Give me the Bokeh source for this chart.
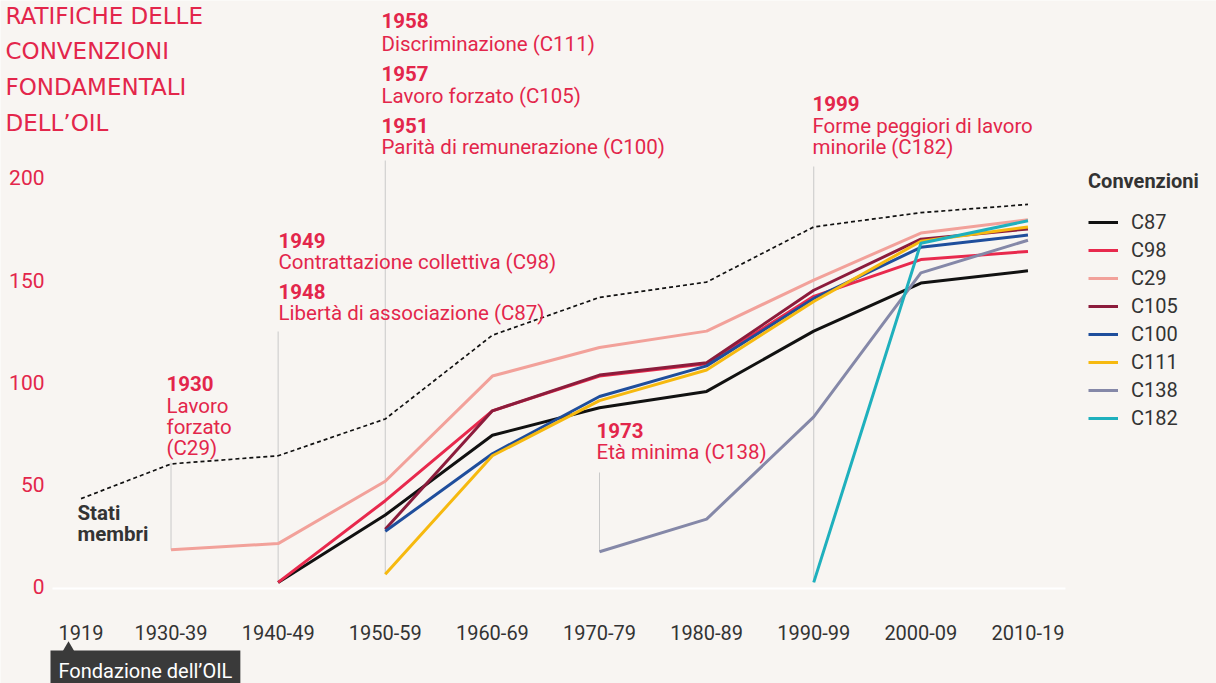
from bokeh.plotting import figure
from bokeh.models import Range1d, Label, Legend, LegendItem
from bokeh.core.properties import value
from bokeh.embed import file_html
from bokeh.resources import INLINE

BG = "#f8f5f2"
RED = "#e3264b"
DARK = "#333333"

# ---------------- data ----------------
periods = ["1919", "1930-39", "1940-49", "1950-59", "1960-69",
           "1970-79", "1980-89", "1990-99", "2000-09", "2010-19"]
stati_membri = [43, 60, 64, 82, 123, 141.5, 149, 176, 183, 187]
C87 = [None, None, 2, 35, 74, 87.5, 95.5, 125, 148.5, 154.5]
C98 = [None, None, 2, 42, 86, 103, 109, 142, 160, 164]
C29 = [None, 18, 21, 51.5, 103, 117, 125, 150, 173, 179.5]
C105 = [None, None, None, 28, 86, 103.5, 109.5, 145, 170, 175]
C100 = [None, None, None, 27, 65, 93, 108, 141, 166, 172]
C111 = [None, None, None, 6, 64, 91, 106, 139.5, 169, 176]
C138 = [None, None, None, None, None, 17, 33, 83, 153.5, 169.5]
C182 = [None, None, None, None, None, None, None, 2, 168, 179]
y_ticks = [0, 50, 100, 150, 200]

series = [
    ("C87", C87, "#111111"),
    ("C98", C98, "#e8294d"),
    ("C29", C29, "#f2a19a"),
    ("C105", C105, "#8c1c3c"),
    ("C100", C100, "#1f4e9c"),
    ("C111", C111, "#f6b90f"),
    ("C138", C138, "#8588a8"),
    ("C182", C182, "#1fb0bd"),
]


def xpos(i):
    # 1919 sits a little closer to the first decade
    return 0.16 if i == 0 else float(i)


# ---------------- geometry (page pixels -> data) ----------------
W, H = 1216, 683
PX = 107.12   # px per period
PY = 2.043    # px per unit
X0_PAGE = 599 - 5 * PX
Y0_PAGE = 586


def dx(px):
    return (px - X0_PAGE) / PX


def dy(py):
    return (Y0_PAGE - py) / PY


p = figure(width=W, height=H, x_range=Range1d(dx(0), dx(W)),
           y_range=Range1d(dy(H), dy(0)), output_backend="svg",
           toolbar_location=None, min_border=0,
           x_axis_type=None, y_axis_type=None,
           background_fill_color=BG, border_fill_color=BG,
           outline_line_color=None)
p.grid.visible = False


def txt(texts, xs, ys, size="20.5px", bold=False, color=RED, font="Roboto",
        align="left", baseline="middle"):
    p.text(x=xs, y=ys, text=texts, text_font=value(font),
           text_font_size=size,
           text_font_style="bold" if bold else "normal",
           text_color=color, text_align=align, text_baseline=baseline)


# axis tick labels (drawn from the tick / category lists)
txt([str(t) for t in y_ticks], [dx(44)] * len(y_ticks), y_ticks,
    size="21px", color=RED, align="right")
txt(periods, [xpos(i) for i in range(len(periods))], [dy(632)] * len(periods),
    size="20px", color=DARK, align="center")

# white baseline
p.segment(x0=[dx(52)], y0=[dy(588)], x1=[9.35], y1=[dy(588)],
          line_color="white", line_width=2)

# leader lines for annotations
lead_x = [1, 2, 3, 5, 7]
lead_bottom = [C29[1], C87[2], C111[3], C138[5], C182[7]]
lead_top = [dy(462), dy(331), dy(160), dy(472), dy(166)]
p.segment(x0=lead_x, y0=lead_bottom, x1=lead_x, y1=lead_top,
          line_color="#c9c9c9", line_width=1)

# member states dashed line
p.line([xpos(i) for i in range(len(stati_membri))], stati_membri,
       line_color="#111111", line_width=1.7, line_dash="4 3")

items = []
for name, vals, color in series:
    xs = [xpos(i) for i, v in enumerate(vals) if v is not None]
    ys = [v for v in vals if v is not None]
    r = p.line(xs, ys, line_color=color, line_width=3)
    items.append(LegendItem(label=name, renderers=[r]))

legend = Legend(items=items, title="Convenzioni", location=(1088, 253),
                background_fill_alpha=0, border_line_color=None,
                padding=0, margin=0, spacing=4, glyph_width=30,
                glyph_height=22, label_height=22, label_standoff=13,
                label_text_font="Roboto", label_text_font_size="20px",
                label_text_color=DARK, title_text_font="Roboto",
                title_text_font_size="20px", title_text_font_style="bold",
                title_text_color=DARK, title_standoff=17)
p.add_layout(legend)

# title
title_lines = ["RATIFICHE DELLE", "CONVENZIONI", "FONDAMENTALI", "DELL\u2019OIL"]
txt(title_lines, [dx(5)] * 4, [dy(v) for v in (15, 50, 86, 122)],
    size="23px", font="DejaVu Sans")

# annotations: (left x, [(text, bold, centre y)])
annots = [
    (381, [("1958", True, 20), ("Discriminazione (C111)", False, 43),
           ("1957", True, 73), ("Lavoro forzato (C105)", False, 95),
           ("1951", True, 125), ("Parità di remunerazione (C100)", False, 146)]),
    (278, [("1949", True, 240), ("Contrattazione collettiva (C98)", False, 261),
           ("1948", True, 291), ("Libertà di associazione (C87)", False, 312)]),
    (166, [("1930", True, 383), ("Lavoro", False, 405), ("forzato", False, 426),
           ("(C29)", False, 447)]),
    (596, [("1973", True, 430), ("Età minima (C138)", False, 451)]),
    (812, [("1999", True, 103), ("Forme peggiori di lavoro", False, 125),
           ("minorile (C182)", False, 146)]),
]
for px, lines in annots:
    for bold in (True, False):
        sel = [(t, yy) for t, b, yy in lines if b == bold]
        txt([t for t, _ in sel], [dx(px)] * len(sel), [dy(yy) for _, yy in sel],
            bold=bold)

txt(["Stati", "membri"], [dx(77)] * 2, [dy(512), dy(533)], bold=True, color=DARK)

# Fondazione box
p.scatter([dx(68)], [dy(650)], marker="triangle", size=16,
          fill_color="#3a3a3a", line_color=None)
p.add_layout(Label(x=dx(50), y=dy(670), text="Fondazione dell\u2019OIL",
                   text_font="Roboto", text_font_size="20px",
                   text_color="white", text_baseline="middle",
                   background_fill_color="#3a3a3a", padding=8))

open("out.html", "w").write(file_html(p, INLINE))
